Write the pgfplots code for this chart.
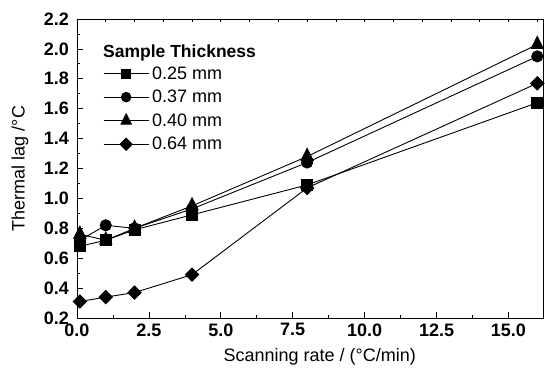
\documentclass[border=0pt]{standalone}
\usepackage{fontspec}
\setmainfont{Liberation Sans}
\usepackage{pgfplots}
\pgfplotsset{compat=1.18}
\begin{document}
\begin{tikzpicture}
\useasboundingbox (-77pt,-54pt) rectangle (468pt,318pt);
\pgfplotsset{
  common/.style={
    scale only axis, width=466pt, height=299pt,
    xmin=0, xmax=16.2, ymin=0.2, ymax=2.2,
    font=\fontsize{18}{21}\selectfont,
    /pgf/number format/assume math mode=true,
  }
}
\begin{axis}[common,
  axis line style={line width=0.8pt},
  xtick={0,2.5,...,15}, minor x tick num=1,
  ytick={0.2,0.4,...,2.2}, minor y tick num=1,
  xtick pos=left, ytick pos=left,
  tick style={line width=0.7pt, black},
  major tick length=6pt, minor tick length=3.5pt,
  ticklabel style={font=\fontsize{18}{21}\selectfont\bfseries},
  xticklabel style={yshift=-2pt, /pgf/number format/.cd, fixed, fixed zerofill, precision=1},
  yticklabel style={xshift=-4.5pt, /pgf/number format/.cd, fixed, fixed zerofill, precision=1},
  xlabel={Scanning rate / (°C/min)},
  ylabel={Thermal lag /°C},
  xlabel style={at={(axis description cs:0.521,-0.131)}, anchor=center},
  ylabel style={at={(axis description cs:-0.1223,0.5)}, anchor=center},
  legend style={draw=none, fill=none, at={(rel axis cs:0.0558,0.845)}, anchor=north west,
    inner sep=0pt, row sep=7.5pt, column sep=2pt, font=\fontsize{18}{21}\selectfont,
    nodes={inner sep=1pt}},
  legend cell align=left,
  legend image code/.code={\draw[mark repeat=2,mark phase=2] plot coordinates {(0pt,0pt) (22.5pt,0pt) (45pt,0pt)};},
  every axis plot/.append style={black, line width=0.9pt},
]
\addplot[mark=square*, mark size=5.5pt, legend image post style={mark size=4.5pt}] coordinates {
 (0.1,0.68) (1,0.72) (2,0.79) (4,0.89) (8,1.09) (16,1.64)};
\addlegendentry{0.25 mm}
\addplot[mark=*, mark size=5.6pt, legend image post style={mark size=4.8pt}] coordinates {
 (0.1,0.72) (1,0.82) (2,0.80) (4,0.93) (8,1.24) (16,1.95)};
\addlegendentry{0.37 mm}
\addplot[mark=triangle*, mark size=7pt, mark options={yscale=1.15}, legend image post style={mark size=6pt}] coordinates {
 (0.1,0.76) (1,0.72) (2,0.80) (4,0.95) (8,1.28) (16,2.03)};
\addlegendentry{0.40 mm}
\addplot[mark=square*, mark size=4.7pt, mark options={rotate=45}, legend image post style={mark size=4.3pt}] coordinates {
 (0.1,0.31) (1,0.34) (2,0.37) (4,0.49) (8,1.07) (16,1.77)};
\addlegendentry{0.64 mm}
\node[anchor=west, inner sep=0pt, font=\fontsize{17.5}{20}\selectfont\bfseries] at (rel axis cs:0.0558,0.886) {Sample Thickness};
\end{axis}
\begin{axis}[common,
  axis line style={draw=none},
  ytick=\empty,
  xtick={1,2,...,16}, xticklabels={},
  xtick pos=right,
  tick style={line width=0.7pt, black},
  major tick length=3.5pt,
]
\end{axis}
\end{tikzpicture}
\end{document}
